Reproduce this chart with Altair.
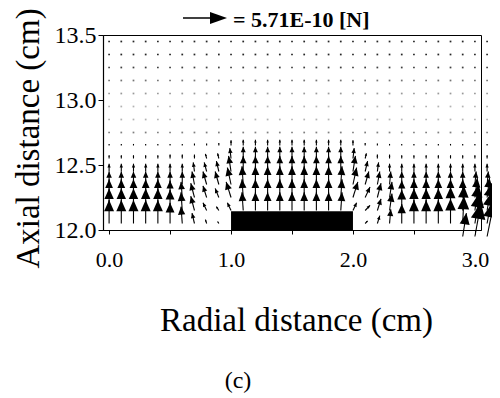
import math
import altair as alt
import pandas as pd

# ---------------- data ----------------
col_x = [0.0, 0.1, 0.2, 0.3, 0.4, 0.5, 0.6, 0.7, 0.8, 0.9, 1.0, 1.1, 1.2, 1.3, 1.4, 1.5,
         1.6, 1.7, 1.8, 1.9, 2.0, 2.1, 2.2, 2.3, 2.4, 2.5, 2.6, 2.7, 2.8, 2.9, 3.0, 3.1]
rows_low = [12.05, 12.15, 12.25, 12.35, 12.45, 12.55, 12.65]
rows_dot = [12.75, 12.85, 12.95, 13.05, 13.15, 13.25, 13.35, 13.45]
dot_alpha = [0.5, 0.3, 0.3, 0.4, 0.55, 0.75, 0.85, 0.85]

# axial (v) component per column, rows 12.05 .. 12.65, in 0.01 cm of arrow length
v_low = [
    [18, 17, 14, 10, 6, 2.5, 1.2],     # 0.0
    [18, 17, 14, 10, 6, 2.5, 1.2],     # 0.1
    [18, 17, 14, 10, 6, 2.5, 1.2],     # 0.2
    [18, 17, 14, 10, 6, 2.5, 1.2],     # 0.3
    [18, 17, 14, 10, 6, 2.5, 1.2],     # 0.4
    [16, 16, 13, 10, 6, 3, 1.2],       # 0.5
    [13, 14, 12, 10, 6, 3, 1.2],       # 0.6
    [8, 11, 11, 10, 7, 3, 1.5],        # 0.7
    [3, 6, 9, 10, 7, 3.5, 1.5],        # 0.8
    [1.5, 3, 7, 10, 8, 4, 2],          # 0.9
    [0, 6, 12, 13, 12, 8, 4],          # 1.0
    [0, 14, 14, 14, 12, 9, 4.5],       # 1.1
    [0, 14, 14, 14, 12, 9, 4.5],       # 1.2
    [0, 14, 14, 14, 12, 9, 4.5],       # 1.3
    [0, 14, 14, 14, 12, 9, 4.5],       # 1.4
    [0, 14, 14, 14, 12, 9, 4.5],       # 1.5
    [0, 14, 14, 14, 12, 9, 4.5],       # 1.6
    [0, 14, 14, 14, 12, 9, 4.5],       # 1.7
    [0, 14, 14, 14, 12, 9, 4.5],       # 1.8
    [0, 14, 14, 14, 12, 9, 4.5],       # 1.9
    [0, 6, 12, 13, 12, 8, 4],          # 2.0
    [2, 4, 8, 10, 8, 4, 2],            # 2.1
    [6, 9, 11, 10, 7, 3, 1.5],         # 2.2
    [11, 13, 12, 10, 6, 3, 1.2],       # 2.3
    [15, 16, 13, 10, 6, 2.5, 1.2],     # 2.4
    [18, 17, 14, 10, 6, 2.5, 1.2],     # 2.5
    [18, 17, 14, 10, 6, 2.5, 1.2],     # 2.6
    [18, 17, 14, 10, 6, 2.5, 1.2],     # 2.7
    [19, 18, 14, 10, 6, 2.5, 1.2],     # 2.8
    [21, 19, 14, 10, 6, 2.5, 1.2],     # 2.9
    [24, 20, 15, 10, 6, 2.5, 1.2],     # 3.0
    [26, 21, 15, 10, 6, 2.5, 1.2],     # 3.1
]
# radial (u) component, only where arrows lean
u_low = {
    0.6: [-1, -1, -1, 0, 0, 0, 0],
    0.7: [-2, -3, -3, -2, -1, 0, 0],
    0.8: [-1, -3, -3, -3, -2, -1, 0],
    0.9: [-1, -2, -3, -3, -2, -1, 0],
    1.0: [0, -3, -4, -3, -2, -1, 0],
    1.1: [0, -1, -1, -1, 0, 0, 0],
    1.9: [0, 1, 1, 1, 0, 0, 0],
    2.0: [0, 3, 4, 3, 2, 1, 0],
    2.1: [2, 4, 4, 3, 2, 1, 0],
    2.2: [2, 3, 3, 2, 1, 0, 0],
    2.3: [1, 2, 2, 1, 0, 0, 0],
    2.9: [1, 1, 0, 0, 0, 0, 0],
    3.0: [4, 3, 2, 1, 0, 0, 0],
    3.1: [5, 4, 2, 1, 0, 0, 0],
}
# arrows whose tails lie just below the axis (right edge)
below_x = [2.9, 3.0, 3.1]
below_y = [11.95, 11.95, 11.95]
below_u = [3, 5, 6]
below_v = [18, 26, 28]

plate_x = [1.0, 2.0]
plate_y = [12.0, 12.145]

legend_text = "= 5.71E-10 [N]"
x_ticks = [0.0, 0.5, 1.0, 1.5, 2.0, 2.5, 3.0]
y_ticks = [12.0, 12.5, 13.0, 13.5]

# ---------------- layout ----------------
W, H = 378, 195
x_dom = [-0.05, 3.05]
y_dom = [12.0, 13.5]
sx = W / (x_dom[1] - x_dom[0])
sy = H / (y_dom[1] - y_dom[0])
FONT = "Liberation Serif, Times New Roman, serif"

rows = []
def add(x, y, u, v):
    if u == 0 and v == 0:
        return
    du, dv = u / 100.0, v / 100.0
    L = math.hypot(du * sx, dv * sy)
    ang = math.degrees(math.atan2(du * sx, dv * sy)) % 360
    rows.append(dict(x=x, y=y, x2=x + du, y2=y + dv, ang=ang, hsize=0.9 * L * L))

for ci, cx in enumerate(col_x):
    us = u_low.get(cx, [0] * len(rows_low))
    for ri, ry in enumerate(rows_low):
        add(cx, ry, us[ri], v_low[ci][ri])
for bx, by, bu, bv in zip(below_x, below_y, below_u, below_v):
    add(bx, by, bu, bv)
arrows = pd.DataFrame(rows)

dots = pd.DataFrame([dict(x=cx, y=ry, a=a) for ry, a in zip(rows_dot, dot_alpha) for cx in col_x])
plate = pd.DataFrame({"x": [plate_x[0]], "x2": [plate_x[1]], "y": [plate_y[0]], "y2": [plate_y[1]]})

xs = alt.Scale(domain=x_dom, nice=False, zero=False)
ys = alt.Scale(domain=y_dom, nice=False, zero=False)

x_axis = alt.Axis(values=x_ticks, labelExpr="datum.value % 1 == 0 ? format(datum.value, '.1f') : ''",
                  labelFont=FONT, titleFont=FONT,
                  labelFontSize=22, tickSize=4, labelPadding=15, title="Radial distance (cm)",
                  titleFontSize=33, titleX=193, titleY=90, titleAlign="center", titleBaseline="middle")
y_axis = alt.Axis(values=y_ticks, format=".1f", labelFont=FONT, titleFont=FONT,
                  labelFontSize=24, tickSize=5, labelPadding=2,
                  title="Axial distance (cm)", titleFontSize=33, titleAngle=270, titleX=-75, titleY=103,
                  titleAlign="center", titleBaseline="middle")

base_rect = alt.Chart(plate).mark_rect(color="black").encode(
    x=alt.X("x:Q", scale=xs, axis=x_axis),
    x2="x2:Q",
    y=alt.Y("y:Q", scale=ys, axis=y_axis),
    y2="y2:Q",
)

dot_layer = alt.Chart(dots).mark_square(size=3, color="black").encode(
    x=alt.X("x:Q", scale=xs), y=alt.Y("y:Q", scale=ys), opacity=alt.Opacity("a:Q", scale=None)
)

shafts = alt.Chart(arrows).mark_rule(color="black", strokeWidth=1.1).encode(
    x=alt.X("x:Q", scale=xs), y=alt.Y("y:Q", scale=ys), x2="x2:Q", y2="y2:Q"
)

HEAD = "M0,0L0.45,1L-0.45,1Z"
heads = alt.Chart(arrows).mark_point(shape=HEAD, filled=True, color="black", opacity=1, strokeWidth=0).encode(
    x=alt.X("x2:Q", scale=xs), y=alt.Y("y2:Q", scale=ys),
    angle=alt.Angle("ang:Q", scale=None), size=alt.Size("hsize:Q", scale=None)
)

LEG_HEAD = "M0,0L0.35,1L-0.35,1Z"
one = pd.DataFrame({"label": [legend_text]})
leg_shaft = alt.Chart(one).mark_rule(color="black", strokeWidth=1.5).encode(
    x=alt.value(80), x2=alt.value(112), y=alt.value(-17)
)
leg_head = alt.Chart(one).mark_point(shape=LEG_HEAD, filled=True, color="black", opacity=1, strokeWidth=0,
                                     size=1156, angle=90).encode(x=alt.value(124), y=alt.value(-17))
leg_text = alt.Chart(one).mark_text(font=FONT, fontSize=22, fontWeight="bold", align="left",
                                    baseline="middle", color="black").encode(
    x=alt.value(130), y=alt.value(-15), text="label:N")
caption = alt.Chart(pd.DataFrame({"c": ["(c)"]})).mark_text(
    font=FONT, fontSize=24, align="center", baseline="middle", color="black").encode(
    x=alt.value(135), y=alt.value(346), text="c:N")

chart = alt.layer(base_rect, dot_layer, shafts, heads, leg_shaft, leg_head, leg_text, caption).properties(
    width=W, height=H, autosize=alt.AutoSizeParams(type="none"),
    padding={"left": 95, "top": 27, "right": 11, "bottom": 168},
    background="white",
).configure_view(stroke="black", strokeWidth=1).configure_axis(
    grid=False, domainColor="black", tickColor="black", labelColor="black", titleColor="black",
    labelFont=FONT, titleFont=FONT, titleFontWeight="normal", domainWidth=1.2,
)

chart.save("out.html", embed_options={"renderer": "svg", "actions": False})
